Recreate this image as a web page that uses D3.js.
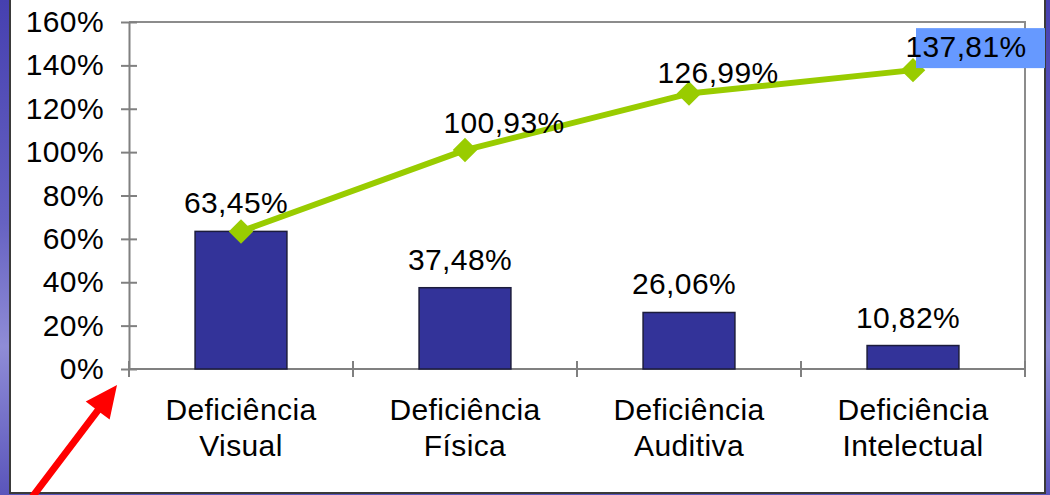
<!DOCTYPE html>
<html>
<head>
<meta charset="utf-8">
<script src="https://cdn.jsdelivr.net/npm/d3@7"></script>
<style>
  html, body { margin: 0; padding: 0; }
  body { width: 1050px; height: 495px; overflow: hidden; }
  text { font-family: "Liberation Sans", Arial, sans-serif; fill: #000; letter-spacing: 0.4px; }
</style>
</head>
<body>
<div id="chart"></div>
<script>
let categories = ["Deficiência Visual", "Deficiência Física", "Deficiência Auditiva", "Deficiência Intelectual"];
let barValues = [63.45, 37.48, 26.06, 10.82];
let lineValues = [63.45, 100.93, 126.99, 137.81];
let yTicks = [0, 20, 40, 60, 80, 100, 120, 140, 160];

let W = 1050, H = 495;
let plot = {left: 129, right: 1025, top: 22, bottom: 369};
let fontSize = 30;

let fmt = v => v.toFixed(2).replace(".", ",") + "%";

let svg = d3.select("#chart").append("svg")
    .attr("width", W)
    .attr("height", H);

// purple slide background
let defs = svg.append("defs");
let grad = defs.append("linearGradient")
    .attr("id", "bg")
    .attr("x1", 0).attr("y1", 0).attr("x2", 0).attr("y2", 1);
grad.append("stop").attr("offset", "0%").attr("stop-color", "#4640b0");
grad.append("stop").attr("offset", "45%").attr("stop-color", "#6662c2");
grad.append("stop").attr("offset", "70%").attr("stop-color", "#8f8cd6");
grad.append("stop").attr("offset", "100%").attr("stop-color", "#5a55bb");

svg.append("rect")
    .attr("width", W).attr("height", H)
    .attr("fill", "url(#bg)");

// white panel
svg.append("rect")
    .attr("x", 10).attr("y", -10)
    .attr("width", 1035).attr("height", 503)
    .attr("fill", "#fff")
    .attr("stroke", "#3a3a3a")
    .attr("stroke-width", 2);

// scales
let xScale = d3.scaleBand()
    .domain(categories)
    .range([plot.left, plot.right])
    .padding(0);
let yScale = d3.scaleLinear()
    .domain([0, 160])
    .range([plot.bottom, plot.top]);

let bw = xScale.bandwidth();
let barW = bw * 0.41;
let cx = d => xScale(d) + bw / 2;

// frame (top + right)
svg.append("path")
    .attr("d", "M" + plot.left + "," + plot.top + "H" + plot.right + "V" + plot.bottom)
    .attr("fill", "none")
    .attr("stroke", "#8c8c8c")
    .attr("stroke-width", 2);

// y axis
let yAxis = d3.axisLeft(yScale)
    .tickValues(yTicks)
    .tickSizeInner(8)
    .tickSizeOuter(0)
    .tickFormat(d => d + "%")
    .tickPadding(17);

let gy = svg.append("g")
    .attr("transform", "translate(" + plot.left + ",0)")
    .call(yAxis);
gy.select(".domain").attr("stroke", "#808080").attr("stroke-width", 2);
gy.selectAll(".tick line")
    .attr("x2", -8).attr("x1", 8)
    .attr("stroke", "#808080").attr("stroke-width", 2);
gy.selectAll(".tick text")
    .attr("font-size", fontSize)
    .attr("font-family", "Liberation Sans, Arial, sans-serif")
    .attr("fill", "#000");

// x axis line and crossing ticks at band edges
svg.append("line")
    .attr("x1", plot.left).attr("x2", plot.right)
    .attr("y1", plot.bottom).attr("y2", plot.bottom)
    .attr("stroke", "#808080").attr("stroke-width", 2);

let edges = categories.map(d => xScale(d)).concat([plot.right]);
svg.selectAll(".xtick")
    .data(edges)
    .enter().append("line")
    .attr("class", "xtick")
    .attr("x1", d => d).attr("x2", d => d)
    .attr("y1", plot.bottom - 8).attr("y2", plot.bottom + 8)
    .attr("stroke", "#808080").attr("stroke-width", 2);

// category labels (two lines)
let catText = svg.selectAll(".cat")
    .data(categories)
    .enter().append("text")
    .attr("class", "cat")
    .attr("text-anchor", "middle")
    .attr("font-size", fontSize);
catText.each(function(d) {
    let parts = d.split(" ");
    let t = d3.select(this);
    parts.forEach((p, i) => {
        t.append("tspan")
            .attr("x", cx(d))
            .attr("y", 420 + i * 36)
            .text(p);
    });
});

// bars
let barData = categories.map((c, i) => ({c: c, v: barValues[i]}));
svg.selectAll(".bar")
    .data(barData)
    .enter().append("rect")
    .attr("class", "bar")
    .attr("x", d => cx(d.c) - barW / 2)
    .attr("y", d => yScale(d.v))
    .attr("width", barW)
    .attr("height", d => yScale(0) - yScale(d.v))
    .attr("fill", "#333399")
    .attr("stroke", "#1c1c3c")
    .attr("stroke-width", 1.5);

// bar labels
svg.selectAll(".barlabel")
    .data(barData)
    .enter().append("text")
    .attr("class", "barlabel")
    .attr("text-anchor", "middle")
    .attr("font-size", fontSize)
    .attr("x", d => cx(d.c) - 5)
    .attr("y", d => yScale(d.v) - 18)
    .text(d => fmt(d.v));

// line
let lineData = categories.map((c, i) => ({c: c, v: lineValues[i]}));
let line = d3.line()
    .x(d => cx(d.c))
    .y(d => yScale(d.v));

svg.append("path")
    .datum(lineData)
    .attr("d", line)
    .attr("fill", "none")
    .attr("stroke", "#99cc00")
    .attr("stroke-width", 6)
    .attr("stroke-linejoin", "round");

let diamond = d3.symbol().type(d3.symbolSquare).size(300);
svg.selectAll(".marker")
    .data(lineData)
    .enter().append("path")
    .attr("class", "marker")
    .attr("d", diamond)
    .attr("transform", d => "translate(" + cx(d.c) + "," + yScale(d.v) + ") rotate(45)")
    .attr("fill", "#99cc00");

// line labels (first one coincides with the bar label)
let lineLabelOffsets = [null, {dx: 39, dy: -17}, {dx: 29, dy: -11}, {dx: 53, dy: -13}];

// highlighted background of the last label
let last = lineData[3];
svg.append("rect")
    .attr("x", cx(last.c) + 3)
    .attr("y", yScale(last.v) - 42)
    .attr("width", 129)
    .attr("height", 40)
    .attr("fill", "#6699ff");

svg.selectAll(".linelabel")
    .data(lineData.filter((d, i) => lineLabelOffsets[i]))
    .enter().append("text")
    .attr("class", "linelabel")
    .attr("text-anchor", "middle")
    .attr("font-size", fontSize)
    .attr("x", d => cx(d.c) + lineLabelOffsets[categories.indexOf(d.c)].dx)
    .attr("y", d => yScale(d.v) + lineLabelOffsets[categories.indexOf(d.c)].dy)
    .text(d => fmt(d.v));

// red arrow pointing at the axis origin
let tip = [117, 385], tail = [30, 500];
let ang = Math.atan2(tip[1] - tail[1], tip[0] - tail[0]);
let headLen = 32, headW = 15, shaftW = 3.5;
let ux = Math.cos(ang), uy = Math.sin(ang);
let px = -uy, py = ux;
let base = [tip[0] - ux * headLen, tip[1] - uy * headLen];
let pts = [
    [tail[0] + px * shaftW, tail[1] + py * shaftW],
    [base[0] + px * shaftW, base[1] + py * shaftW],
    [base[0] + px * headW, base[1] + py * headW],
    tip,
    [base[0] - px * headW, base[1] - py * headW],
    [base[0] - px * shaftW, base[1] - py * shaftW],
    [tail[0] - px * shaftW, tail[1] - py * shaftW]
];
svg.append("path")
    .attr("d", "M" + pts.map(p => p.join(",")).join("L") + "Z")
    .attr("fill", "#ff0000");
</script>
</body>
</html>
